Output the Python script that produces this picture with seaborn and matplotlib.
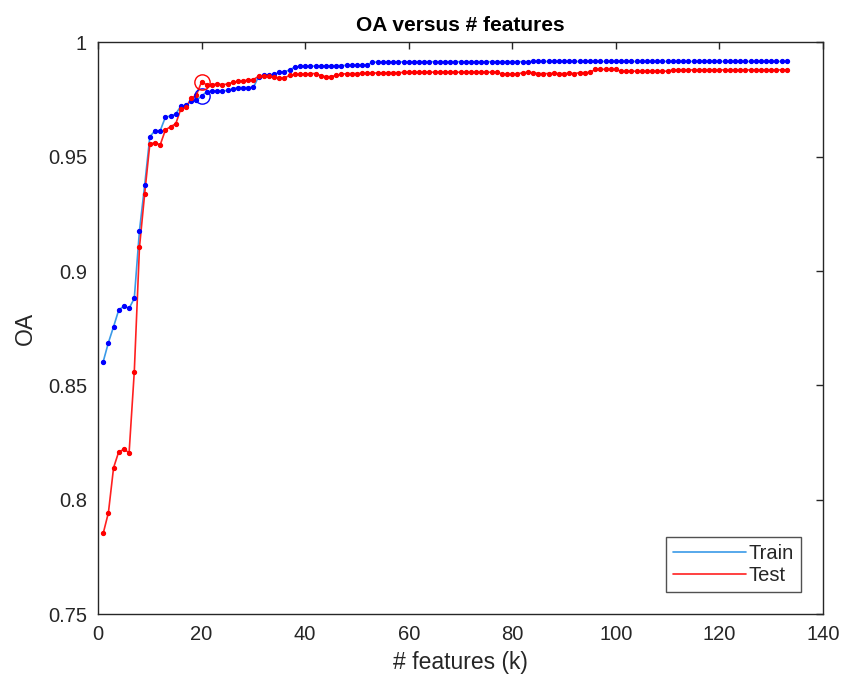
import numpy as np
import pandas as pd
import matplotlib
matplotlib.use("Agg")
import matplotlib.pyplot as plt
import seaborn as sns

sns.set_style("white")
plt.rcParams['font.family'] = ['Liberation Sans', 'DejaVu Sans']

# number of selected features
k = list(range(1, 134))

train = [0.8604, 0.8687, 0.8757, 0.8830, 0.8847, 0.8837, 0.8881, 0.9177, 0.9375, 0.9588,
         0.9614, 0.9614, 0.9673, 0.9679, 0.9687, 0.9722, 0.9725, 0.9745, 0.9748, 0.9766,
         0.9785, 0.9787, 0.9788, 0.9788, 0.9790, 0.9798, 0.9803, 0.9803, 0.9803, 0.9804,
         0.9850, 0.9857, 0.9858, 0.9860, 0.9870, 0.9872, 0.9880, 0.9893, 0.9895, 0.9895,
         0.9896, 0.9897, 0.9897, 0.9898, 0.9898, 0.9899, 0.9899, 0.9900, 0.9900, 0.9901,
         0.9901, 0.9902, 0.9914, 0.9914, 0.9914, 0.9915, 0.9915, 0.9915, 0.9915, 0.9915,
         0.9916, 0.9916, 0.9916, 0.9916, 0.9916, 0.9916, 0.9916, 0.9916, 0.9916, 0.9916,
         0.9916, 0.9916, 0.9916, 0.9916, 0.9916, 0.9916, 0.9916, 0.9916, 0.9916, 0.9916,
         0.9916, 0.9916, 0.9916, 0.9917, 0.9917, 0.9917, 0.9917, 0.9917, 0.9917, 0.9917,
         0.9917, 0.9917, 0.9917, 0.9917, 0.9917, 0.9917, 0.9917, 0.9917, 0.9917, 0.9917,
         0.9917, 0.9917, 0.9917, 0.9917, 0.9917, 0.9917, 0.9917, 0.9917, 0.9917, 0.9917,
         0.9917, 0.9917, 0.9917, 0.9917, 0.9917, 0.9917, 0.9917, 0.9917, 0.9917, 0.9917,
         0.9917, 0.9917, 0.9917, 0.9917, 0.9917, 0.9917, 0.9917, 0.9917, 0.9917, 0.9917,
         0.9917, 0.9917, 0.9917]

test = [0.7853, 0.7943, 0.8140, 0.8210, 0.8220, 0.8206, 0.8560, 0.9104, 0.9337, 0.9556,
        0.9562, 0.9552, 0.9617, 0.9632, 0.9644, 0.9710, 0.9716, 0.9756, 0.9770, 0.9829,
        0.9814, 0.9816, 0.9818, 0.9816, 0.9818, 0.9826, 0.9830, 0.9832, 0.9836, 0.9838,
        0.9852, 0.9854, 0.9852, 0.9848, 0.9846, 0.9845, 0.9856, 0.9860, 0.9860, 0.9862,
        0.9864, 0.9864, 0.9855, 0.9850, 0.9851, 0.9856, 0.9862, 0.9863, 0.9864, 0.9864,
        0.9865, 0.9866, 0.9866, 0.9867, 0.9867, 0.9868, 0.9868, 0.9868, 0.9869, 0.9869,
        0.9869, 0.9869, 0.9870, 0.9870, 0.9870, 0.9870, 0.9870, 0.9870, 0.9870, 0.9870,
        0.9870, 0.9870, 0.9870, 0.9870, 0.9870, 0.9870, 0.9870, 0.9862, 0.9861, 0.9862,
        0.9862, 0.9868, 0.9869, 0.9868, 0.9864, 0.9864, 0.9864, 0.9865, 0.9864, 0.9864,
        0.9865, 0.9864, 0.9868, 0.9868, 0.9869, 0.9882, 0.9882, 0.9883, 0.9882, 0.9882,
        0.9874, 0.9874, 0.9875, 0.9874, 0.9874, 0.9874, 0.9875, 0.9874, 0.9875, 0.9874,
        0.9880, 0.9880, 0.9881, 0.9880, 0.9880, 0.9880, 0.9880, 0.9881, 0.9880, 0.9880,
        0.9880, 0.9880, 0.9880, 0.9880, 0.9880, 0.9880, 0.9880, 0.9880, 0.9880, 0.9880,
        0.9880, 0.9880, 0.9880]

best_k = 20

df = pd.DataFrame({"k": k, "Train": train, "Test": test})

fig = plt.figure(figsize=(8.43, 6.92), dpi=100)
ax = fig.add_axes([0.1163, 0.1127, 0.8600, 0.8259])

sns.lineplot(data=df, x="k", y="Train", color="#3a9ae8", lw=1.2, label="Train", ax=ax)
sns.lineplot(data=df, x="k", y="Test", color="#ff2020", lw=1.2, label="Test", ax=ax)
ax.plot(df.k, df.Train, ls="none", marker="o", ms=2.8, color="#0000ff")
ax.plot(df.k, df.Test, ls="none", marker="o", ms=2.8, color="#ff0000")

# chosen number of features
sel = df[df.k == best_k]
ax.plot(sel.k, sel.Train, ls="none", marker="o", ms=11, mfc="none", mec="#0000ff", mew=1)
ax.plot(sel.k, sel.Test, ls="none", marker="o", ms=11, mfc="none", mec="#ff0000", mew=1)

ax.set_xlim(0, 140)
ax.set_ylim(0.75, 1.0)
ax.set_xticks(range(0, 141, 20))
ax.set_yticks([0.75, 0.8, 0.85, 0.9, 0.95, 1.0])
ax.set_yticklabels(["0.75", "0.8", "0.85", "0.9", "0.95", "1"])
ax.tick_params(direction="in", length=5, width=1, top=True, right=True,
               labelsize=14.5, colors="#262626", pad=8)
for s in ax.spines.values():
    s.set_color("#262626")
    s.set_linewidth(1)

ax.set_title("OA versus # features", fontsize=15, fontweight="bold", color="black", pad=8)
ax.set_xlabel("# features (k)", fontsize=16.5, color="#262626", labelpad=5)
ax.set_ylabel("OA", fontsize=16.5, color="#262626", labelpad=8)

leg = ax.legend(loc="lower right", fontsize=14.5, frameon=True, fancybox=False,
                edgecolor="#262626", handlelength=3.6, borderaxespad=1.1,
                handletextpad=0.15, labelspacing=0.15, borderpad=0.35)
leg.get_frame().set_linewidth(1)

fig.savefig("out.png", dpi=100, facecolor="white")
